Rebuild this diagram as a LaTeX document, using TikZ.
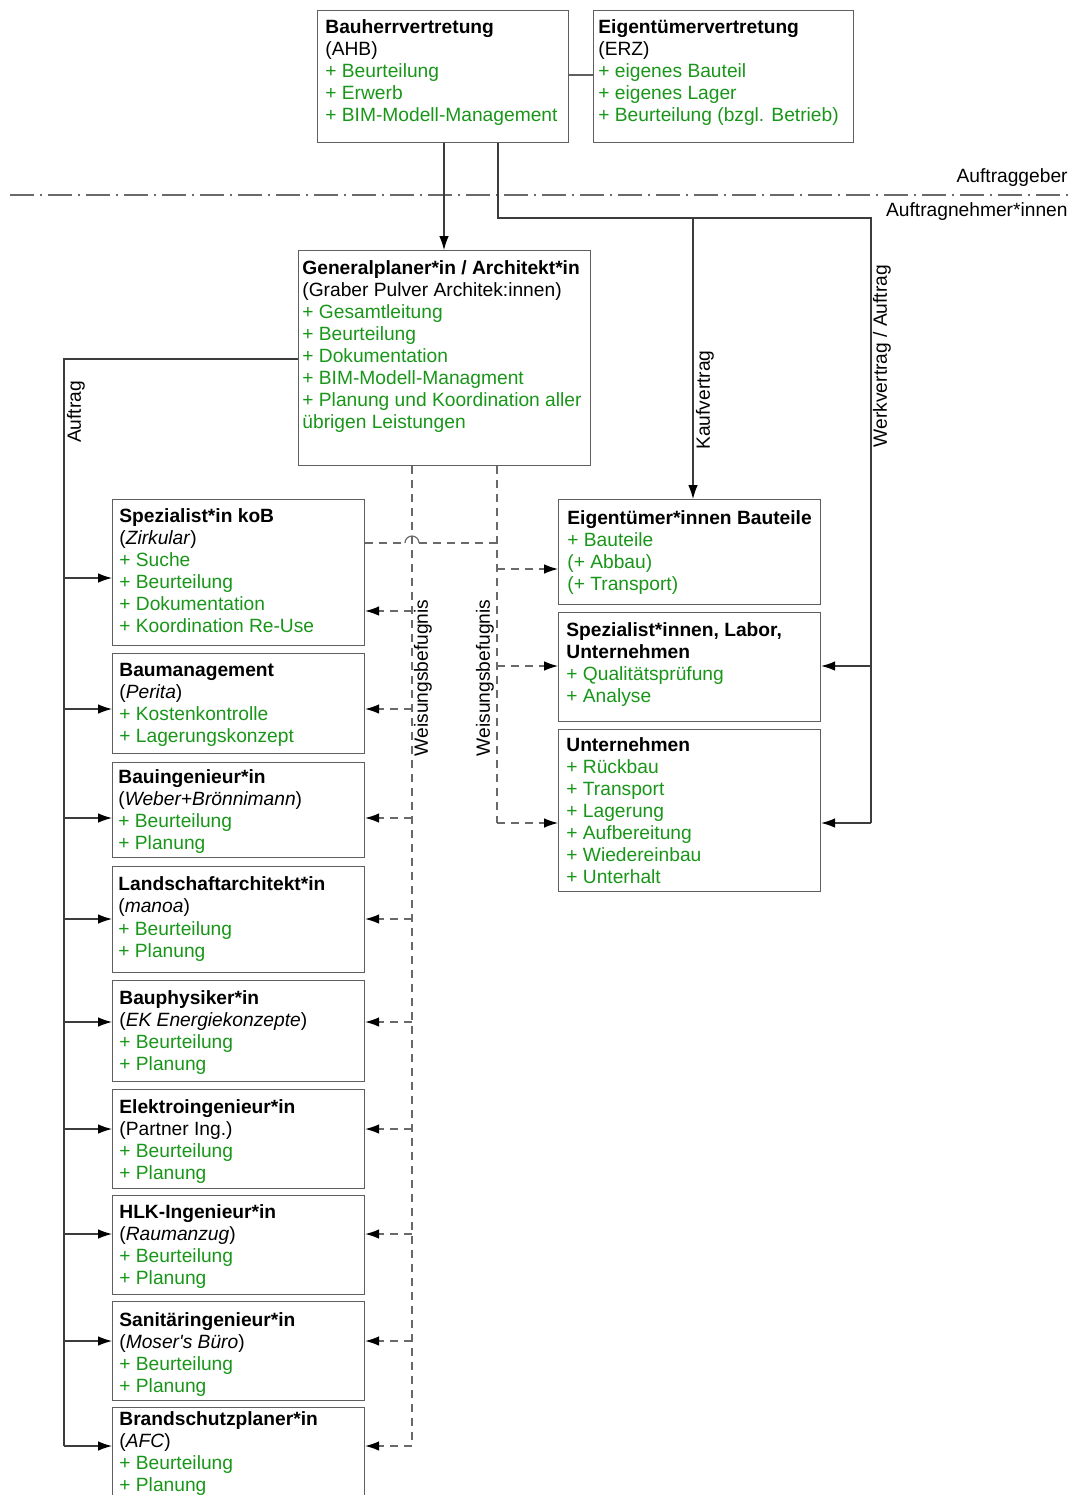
\documentclass[tikz,border=0pt]{standalone}
\usepackage{fontspec}
\setmainfont{Liberation Sans}
\usetikzlibrary{arrows.meta,calc}
\definecolor{grn}{RGB}{25,150,25}
\definecolor{bordc}{RGB}{95,95,95}
\definecolor{linec}{RGB}{60,60,60}
\definecolor{dashc}{RGB}{105,105,105}
\newcommand{\g}[1]{\textcolor{grn}{#1}}
\begin{document}
\begin{tikzpicture}[x=0.5pt,y=-0.5pt,
 box/.style={draw=bordc,line width=0.6pt,inner sep=0pt,anchor=north west},
 txt/.style={anchor=north west,inner sep=0pt,align=left,font=\fontsize{9.6}{11}\selectfont},
 tip/.style={-{Latex[length=7pt,width=4.8pt,color=black]}},
 ln/.style={draw=linec,line width=0.6pt},
 arr/.style={ln,tip},
 dsh/.style={draw=dashc,line width=0.6pt,dash pattern=on 4pt off 3pt},
 darr/.style={dsh,tip},
 lbl/.style={inner sep=0pt,font=\fontsize{9.6}{11}\selectfont},
 sep/.style={draw=dashc,line width=0.6pt,dash pattern=on 12pt off 3pt on 1pt off 3pt}
]
\useasboundingbox (0,0) rectangle (1073,1495);

% top boxes
\node[box,minimum width=125.5pt,minimum height=66pt] (bh) at (317,10) {};
\node[txt] (bht) at (325,19) {\textbf{Bauherrvertretung}\\(AHB)\\\g{+ Beurteilung}\\\g{+ Erwerb}\\\g{+ BIM-Modell-Management}};
\node[box,minimum width=130pt,minimum height=66pt] (eo) at (593,10) {};
\node[txt] (eot) at (598,19) {\textbf{Eigentümervertretung}\\(ERZ)\\\g{+ eigenes Bauteil}\\\g{+ eigenes Lager}\\\g{+ Beurteilung (bzgl. Betrieb)}};
\draw[ln,draw=bordc] (bh.east |- 0,75) -- (eo.west |- 0,75);

% separator
\draw[sep] (10,195) -- (1068,195);
\node[lbl,anchor=east] (ag) at (1068,178) {Auftraggeber};
\node[lbl,anchor=east] (an) at (1068,212) {Auftragnehmer*innen};

% Generalplaner
\node[box,minimum width=146pt,minimum height=107.5pt] (gp) at (298,250) {};
\node[txt] (gpt) at (302,260) {\textbf{Generalplaner*in / Architekt*in}\\(Graber Pulver Architek:innen)\\\g{+ Gesamtleitung}\\\g{+ Beurteilung}\\\g{+ Dokumentation}\\\g{+ BIM-Modell-Managment}\\\g{+ Planung und Koordination aller}\\\g{übrigen Leistungen}};
\draw[arr] (bh.south -| 444,0) -- (gp.north -| 444,0);

% left boxes
\node[box,minimum width=126pt,minimum height=73pt] (b1) at (112,499) {};
\node[txt] (b1t) at (119,508) {\textbf{Spezialist*in koB}\\(\textit{Zirkular})\\\g{+ Suche}\\\g{+ Beurteilung}\\\g{+ Dokumentation}\\\g{+ Koordination Re-Use}};
\node[box,minimum width=126pt,minimum height=50pt] (b2) at (112,653) {};
\node[txt] (b2t) at (119,663) {\textbf{Baumanagement}\\(\textit{Perita})\\\g{+ Kostenkontrolle}\\\g{+ Lagerungskonzept}};
\node[box,minimum width=126pt,minimum height=47.5pt] (b3) at (112,762) {};
\node[txt] (b3t) at (118,769) {\textbf{Bauingenieur*in}\\(\textit{Weber+Brönnimann})\\\g{+ Beurteilung}\\\g{+ Planung}};
\node[box,minimum width=126pt,minimum height=53pt] (b4) at (112,866) {};
\node[txt] (b4t) at (118,876) {\textbf{Landschaftarchitekt*in}\\(\textit{manoa})\\[0.5pt]\g{+ Beurteilung}\\\g{+ Planung}};
\node[box,minimum width=126pt,minimum height=50.5pt] (b5) at (112,980) {};
\node[txt] (b5t) at (119,990) {\textbf{Bauphysiker*in}\\(\textit{EK Energiekonzepte})\\\g{+ Beurteilung}\\\g{+ Planung}};
\node[box,minimum width=126pt,minimum height=49.5pt] (b6) at (112,1089) {};
\node[txt] (b6t) at (119,1099) {\textbf{Elektroingenieur*in}\\(Partner Ing.)\\\g{+ Beurteilung}\\\g{+ Planung}};
\node[box,minimum width=126pt,minimum height=49.5pt] (b7) at (112,1195) {};
\node[txt] (b7t) at (119,1204) {\textbf{HLK-Ingenieur*in}\\(\textit{Raumanzug})\\\g{+ Beurteilung}\\\g{+ Planung}};
\node[box,minimum width=126pt,minimum height=49.5pt] (b8) at (112,1301) {};
\node[txt] (b8t) at (119,1312) {\textbf{Sanitäringenieur*in}\\(\textit{Moser\textquotesingle s Büro})\\\g{+ Beurteilung}\\\g{+ Planung}};
\node[box,minimum width=126pt,minimum height=55pt] (b9) at (112,1407) {};
\node[txt] (b9t) at (119,1411) {\textbf{Brandschutzplaner*in}\\(\textit{AFC})\\\g{+ Beurteilung}\\\g{+ Planung}};

% right boxes
\node[box,minimum width=131pt,minimum height=52.5pt] (eib) at (558,499) {};
\node[txt] (eibt) at (567,510) {\textbf{Eigentümer*innen Bauteile}\\\g{+ Bauteile}\\\g{(+ Abbau)}\\\g{(+ Transport)}};
\node[box,minimum width=131pt,minimum height=54.5pt] (sl) at (558,612) {};
\node[txt] (slt) at (566,622) {\textbf{Spezialist*innen, Labor,}\\\textbf{Unternehmen}\\\g{+ Qualitätsprüfung}\\\g{+ Analyse}};
\node[box,minimum width=131pt,minimum height=81pt] (un) at (558,729) {};
\node[txt] (unt) at (566,737) {\textbf{Unternehmen}\\\g{+ Rückbau}\\\g{+ Transport}\\\g{+ Lagerung}\\\g{+ Aufbereitung}\\\g{+ Wiedereinbau}\\\g{+ Unterhalt}};

% right contract lines
\coordinate (rc) at (498,218);
\coordinate (rr) at (871,218);
\draw[ln] (bh.south -| rc) -- (rc) -- (rr) -- (rr |- 0,823);
\draw[arr] (rr |- 0,823) -- (un.east |- 0,823);
\draw[arr] (rr |- 0,666) -- (sl.east |- 0,666);
\draw[arr] (693,218) -- (eib.north -| 693,0);
\node[lbl,rotate=90] (kv) at (705,400) {Kaufvertrag};
\node[lbl,rotate=90] (wv) at (882,356) {Werkvertrag / Auftrag};

% left trunk
\coordinate (tk) at (64,359);
\draw[ln] (gp.west |- tk) -- (tk) -- (tk |- 0,1446);
\node[lbl,rotate=90] (af) at (76,412) {Auftrag};
\foreach \b/\yy in {b1/578,b2/709,b3/818,b4/919,b5/1022,b6/1129,b7/1234,b8/1341,b9/1446}{
  \draw[arr] (tk |- 0,\yy) -- (\b.west |- 0,\yy);
}

% Weisungsbefugnis dashed lines
\coordinate (w1) at (412,465);
\coordinate (w2) at (497,465);
\draw[dsh] (gp.south -| w1) -- (w1 |- 0,1446);
\foreach \b/\yy in {b1/611,b2/709,b3/818,b4/919,b5/1022,b6/1129,b7/1234,b8/1341,b9/1446}{
  \draw[darr] (w1 |- 0,\yy) -- (\b.east |- 0,\yy);
}
\draw[dsh] (gp.south -| w2) -- (w2 |- 0,823);
\draw[darr] (w2 |- 0,569) -- (eib.west |- 0,569);
\draw[darr] (w2 |- 0,666) -- (sl.west |- 0,666);
\draw[darr] (w2 |- 0,823) -- (un.west |- 0,823);
\draw[dsh] (b1.east |- 0,543) -- (405,543);
\draw[draw=dashc,line width=0.6pt] (405,543) arc (180:360:7);
\draw[dsh] (419,543) -- (w2 |- 0,543);
\node[lbl,rotate=90] (wb1) at (423,678) {Weisungsbefugnis};
\node[lbl,rotate=90] (wb2) at (485,678) {Weisungsbefugnis};
\end{tikzpicture}
\end{document}
